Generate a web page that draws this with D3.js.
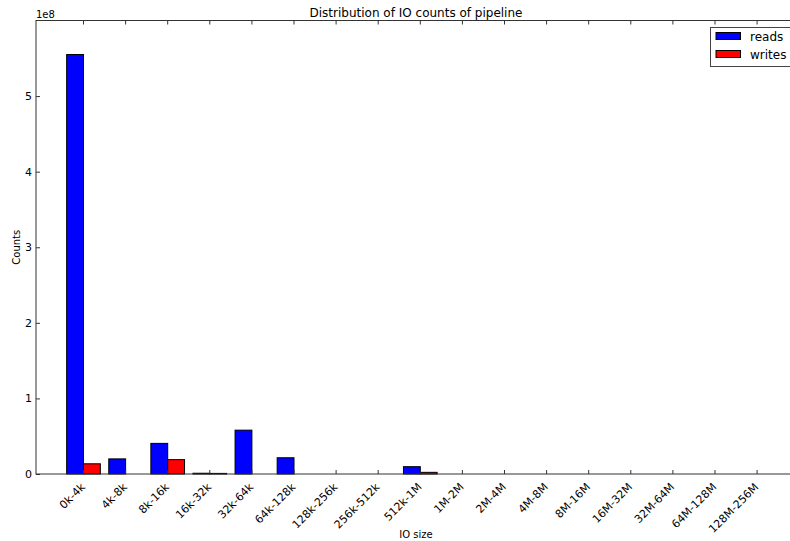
<!DOCTYPE html>
<html>
<head>
<meta charset="utf-8">
<script src="https://cdn.jsdelivr.net/npm/d3@7"></script>
<style>
  body { margin: 0; background: #fff; }
  text { font-family: "DejaVu Sans", sans-serif; fill: #000; }
</style>
</head>
<body>
<svg id="chart" width="790" height="541"></svg>
<script>
// IO size buckets
const categories = ["0k-4k", "4k-8k", "8k-16k", "16k-32k", "32k-64k", "64k-128k",
  "128k-256k", "256k-512k", "512k-1M", "1M-2M", "2M-4M", "4M-8M", "8M-16M",
  "16M-32M", "32M-64M", "64M-128M", "128M-256M"];
// IO counts per bucket
const reads  = [5.55e8, 2.0e7, 4.05e7, 1.0e6, 5.8e7, 2.15e7, 0, 0, 9.7e6, 0, 0, 0, 0, 0, 0, 0, 0];
const writes = [1.35e7, 0, 1.9e7, 8e5, 0, 0, 0, 0, 2.2e6, 0, 0, 0, 0, 0, 0, 0, 0];
const yTicks = [0, 1e8, 2e8, 3e8, 4e8, 5e8];
const yMax = 6e8;
const seriesNames = ["reads", "writes"];
const seriesColors = ["#0000ff", "#ff0000"];

const svg = d3.select("#chart");
const W = 790, H = 541;
svg.append("rect").attr("width", W).attr("height", H).attr("fill", "#fff");

const frame = { left: 36, right: 796, top: 20.5, bottom: 474 };

const step = 42.1;
const x = d3.scaleBand()
  .domain(categories)
  .range([62.45, 62.45 + step * categories.length])
  .paddingInner(0).paddingOuter(0);
const barW = x.step() * 0.4;
const tickX = c => x(c) + x.step() / 2;

const y = d3.scaleLinear().domain([0, yMax]).range([frame.bottom, frame.top]);

const plot = svg.append("g");

// bars
const series = [reads, writes];
series.forEach((vals, si) => {
  plot.selectAll(null)
    .data(categories.map((c, i) => ({ c, v: vals[i] })))
    .enter().append("rect")
    .attr("x", d => tickX(d.c) - barW + si * barW)
    .attr("y", d => y(d.v))
    .attr("width", barW)
    .attr("height", d => y(0) - y(d.v))
    .attr("fill", seriesColors[si])
    .attr("stroke", "#000")
    .attr("stroke-width", 1);
});

// axes frame
svg.append("rect")
  .attr("x", frame.left).attr("y", frame.top)
  .attr("width", frame.right - frame.left).attr("height", frame.bottom - frame.top)
  .attr("fill", "none").attr("stroke", "#333").attr("stroke-width", 1);

// bottom axis
const xAxis = d3.axisBottom(x).tickSizeInner(-4).tickSizeOuter(0).tickPadding(6);
const gx = svg.append("g").attr("transform", `translate(0,${frame.bottom})`).call(xAxis);
gx.select(".domain").remove();
gx.selectAll(".tick line").attr("stroke", "#333");
gx.selectAll(".tick text")
  .attr("font-size", 11)
  .attr("text-anchor", "end")
  .attr("dy", null)
  .attr("y", null)
  .attr("transform", "translate(-3.5,8) rotate(-45)")
  .attr("dominant-baseline", "hanging");

// top mirrored ticks
const gxt = svg.append("g").attr("transform", `translate(0,${frame.top})`)
  .call(d3.axisTop(x).tickSizeInner(-4).tickSizeOuter(0).tickFormat(""));
gxt.select(".domain").remove();
gxt.selectAll(".tick line").attr("stroke", "#333");

// left axis
const gy = svg.append("g").attr("transform", `translate(${frame.left},0)`)
  .call(d3.axisLeft(y).tickValues(yTicks).tickFormat(d => d / 1e8)
    .tickSizeInner(-4).tickSizeOuter(0).tickPadding(4));
gy.select(".domain").remove();
gy.selectAll(".tick line").attr("stroke", "#333");
gy.selectAll(".tick text").attr("font-size", 11);

// right mirrored ticks
const gyr = svg.append("g").attr("transform", `translate(${frame.right},0)`)
  .call(d3.axisRight(y).tickValues(yTicks).tickFormat("").tickSizeInner(-4).tickSizeOuter(0));
gyr.select(".domain").remove();
gyr.selectAll(".tick line").attr("stroke", "#333");

// offset text
svg.append("text").attr("x", frame.left).attr("y", 18).attr("font-size", 10).text("1e8");

// title and axis labels
const cx = (frame.left + frame.right) / 2;
svg.append("text").attr("x", cx).attr("y", 16.5)
  .attr("text-anchor", "middle").attr("font-size", 12)
  .text("Distribution of IO counts of pipeline");
svg.append("text").attr("x", cx).attr("y", 538)
  .attr("text-anchor", "middle").attr("font-size", 10).text("IO size");
svg.append("text")
  .attr("transform", `translate(19.5,${(frame.top + frame.bottom) / 2}) rotate(-90)`)
  .attr("text-anchor", "middle").attr("font-size", 10).text("Counts");

// legend
const lg = svg.append("g");
lg.append("rect").attr("x", 710.5).attr("y", 27.5).attr("width", 80).attr("height", 39)
  .attr("fill", "#fff").attr("stroke", "#444").attr("stroke-width", 1);
seriesNames.forEach((name, i) => {
  lg.append("rect").attr("x", 716).attr("y", 32.5 + i * 18).attr("width", 24.5).attr("height", 7)
    .attr("fill", seriesColors[i]).attr("stroke", "#000").attr("stroke-width", 1);
  lg.append("text").attr("x", 750).attr("y", 40.5 + i * 18).attr("font-size", 12).text(name);
});
</script>
</body>
</html>
